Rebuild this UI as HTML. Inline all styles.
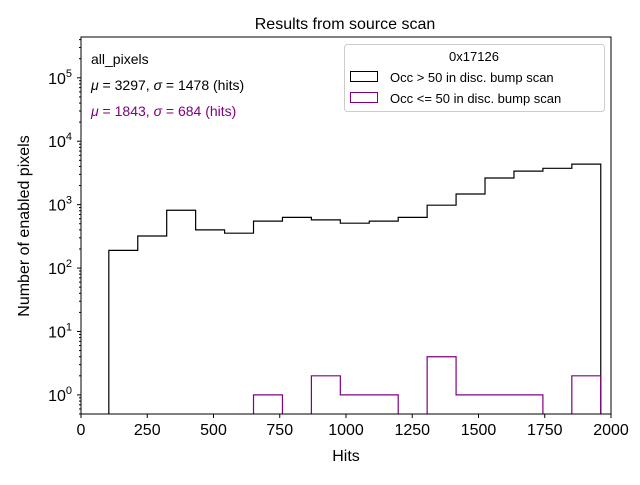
<!DOCTYPE html>
<html><head><meta charset="utf-8"><style>
body{margin:0;background:#fff;}
svg text{font-family:"Liberation Sans","DejaVu Sans",sans-serif;}
</style></head><body>
<svg id="chart" width="640" height="480" viewBox="0 0 640 480" xmlns="http://www.w3.org/2000/svg">
<rect width="640" height="480" fill="#fff"/>
<text x="345" y="29" font-size="16" text-anchor="middle">Results from source scan</text>
<g id="plot"></g>
<rect x="81" y="37" width="530" height="377" fill="none" stroke="#000" stroke-width="1"/>
<text x="346" y="461" font-size="16" text-anchor="middle">Hits</text>
<text transform="translate(29,226) rotate(-90)" font-size="16" text-anchor="middle">Number of enabled pixels</text>
<text x="91" y="64" font-size="14">all_pixels</text>
<text x="91" y="90" font-size="14"><tspan font-style="italic">μ</tspan> = 3297, <tspan font-style="italic">σ</tspan> = 1478 (hits)</text>
<text x="91" y="116" font-size="14" fill="#800080"><tspan font-style="italic">μ</tspan> = 1843, <tspan font-style="italic">σ</tspan> = 684 (hits)</text>
<g>
<rect x="344.5" y="44.5" width="260" height="67" rx="3" fill="#fff" fill-opacity="0.8" stroke="#ccc"/>
<text x="474" y="61" font-size="13" text-anchor="middle">0x17126</text>
<rect x="350.5" y="71.5" width="27" height="10" fill="none" stroke="#000"/>
<text x="390" y="82" font-size="13">Occ &gt; 50 in disc. bump scan</text>
<rect x="350.5" y="92.5" width="27" height="10" fill="none" stroke="#800080"/>
<text x="390" y="103" font-size="13">Occ &lt;= 50 in disc. bump scan</text>
</g>
</svg>
<script>
const binStart = 105;
const binWidth = 109.2;
const countsHigh = [190,320,815,400,355,550,630,575,510,550,630,980,1470,2630,3380,3740,4350];
const countsLow = [0,0,0,0,0,1,0,2,1,1,0,4,1,1,1,0,2];
const xTicks = [0,250,500,750,1000,1250,1500,1750,2000];
const yTickExps = [0,1,2,3,4,5];

const NS="http://www.w3.org/2000/svg";
const L=81,R=611,T=37,B=414;
const xmin=0,xmax=2000,lmin=Math.log10(0.5),lmax=Math.log10(4.4e5);
const X=v=>L+(v-xmin)/(xmax-xmin)*(R-L);
const Y=v=>v<=0?B+5:B-(Math.log10(v)-lmin)/(lmax-lmin)*(B-T);
const g=document.getElementById('plot');
function mk(tag,attrs){const e=document.createElementNS(NS,tag);for(const k in attrs)e.setAttribute(k,attrs[k]);return e;}

const clip=mk('clipPath',{id:'pc'});clip.appendChild(mk('rect',{x:L,y:T,width:R-L,height:B-T}));
const defs=mk('defs',{});defs.appendChild(clip);g.appendChild(defs);

function step(counts,color,name){
  let d='M'+X(binStart)+','+(B+5);
  counts.forEach((c,i)=>{const x0=X(binStart+i*binWidth),x1=X(binStart+(i+1)*binWidth);d+=' L'+x0+','+Y(c)+' L'+x1+','+Y(c);});
  d+=' L'+X(binStart+counts.length*binWidth)+','+(B+5);
  const p=mk('path',{d:d,fill:'none',stroke:color,'stroke-width':1.2,'clip-path':'url(#pc)'});
  
  
  g.appendChild(p);
}
step(countsHigh,'#000','hist-occ-high');
step(countsLow,'#800080','hist-occ-low');

xTicks.forEach(t=>{
  const x=X(t);
  const ln=mk('line',{x1:x,x2:x,y1:B,y2:B+4,stroke:'#000'});
  
  
  g.appendChild(ln);
  const tx=mk('text',{x:x,y:B+21,'font-size':16,'text-anchor':'middle'});tx.textContent=t;
  
  
  g.appendChild(tx);
});
yTickExps.forEach(e=>{
  const y=Y(Math.pow(10,e));
  const ln=mk('line',{x1:L-4,x2:L,y1:y,y2:y,stroke:'#000'});
  
  
  g.appendChild(ln);
  const tx=mk('text',{x:L-9,y:y+6,'font-size':16,'text-anchor':'end'});
  tx.innerHTML='10<tspan dy="-7" font-size="11">'+e+'</tspan>';
  
  
  g.appendChild(tx);
  for(let m=2;m<10;m++){
    const v=m*Math.pow(10,e-1);const yy=Y(v);
    if(yy<T||yy>B)continue;
    const mn=mk('line',{x1:L-2,x2:L,y1:yy,y2:yy,stroke:'#000'});
    
    
    g.appendChild(mn);
  }
});
for(let m=2;m<10;m++){const v=m*1e5,yy=Y(v);if(yy>=T){const mn=mk('line',{x1:L-2,x2:L,y1:yy,y2:yy,stroke:'#000'});


g.appendChild(mn);}}
</script>
</body></html>
